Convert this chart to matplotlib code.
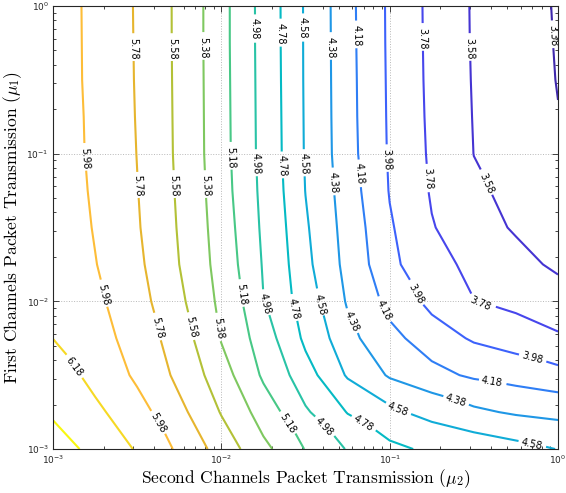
import numpy as np
import matplotlib
matplotlib.use('Agg')
import matplotlib.pyplot as plt

plt.rcParams['mathtext.fontset'] = 'cm'

# grid (log10 of the packet transmission probabilities)
log_mu2 = [-3.0, -2.75, -2.5, -2.25, -2.0, -1.75, -1.5, -1.25, -1.0, -0.75, -0.5, -0.25, 0.0]
log_mu1 = [-3.0, -2.75, -2.5, -2.25, -2.0, -1.75, -1.5, -1.25, -1.0, -0.75, -0.5, -0.25, 0.0]

# values, one row per mu1 (bottom -> top)
z_rows = [
    [6.46, 6.318, 6.159, 5.937, 5.679, 5.422, 5.169, 4.963, 4.818, 4.740, 4.685, 4.631, 4.575],
    [6.35, 6.216, 6.043, 5.821, 5.566, 5.273, 5.001, 4.769, 4.610, 4.504, 4.411, 4.352, 4.310],
    [6.27, 6.113, 5.941, 5.724, 5.451, 5.145, 4.847, 4.555, 4.354, 4.230, 4.146, 4.088, 4.030],
    [6.178, 6.051, 5.887, 5.660, 5.366, 5.062, 4.734, 4.427, 4.228, 4.071, 3.951, 3.876, 3.800],
    [6.14, 6.012, 5.842, 5.614, 5.323, 4.982, 4.657, 4.357, 4.108, 3.913, 3.780, 3.720, 3.660],
    [6.12, 5.986, 5.812, 5.580, 5.286, 4.962, 4.621, 4.307, 4.017, 3.841, 3.724, 3.634, 3.540],
    [6.10, 5.966, 5.794, 5.560, 5.267, 4.939, 4.600, 4.282, 3.997, 3.790, 3.649, 3.557, 3.500],
    [6.09, 5.949, 5.784, 5.544, 5.249, 4.920, 4.576, 4.255, 3.969, 3.758, 3.602, 3.529, 3.455],
    [6.08, 5.936, 5.776, 5.534, 5.239, 4.906, 4.562, 4.236, 3.955, 3.743, 3.578, 3.499, 3.410],
    [6.08, 5.931, 5.769, 5.532, 5.237, 4.903, 4.559, 4.231, 3.950, 3.733, 3.571, 3.480, 3.385],
    [6.07, 5.927, 5.764, 5.530, 5.235, 4.900, 4.556, 4.229, 3.946, 3.726, 3.565, 3.471, 3.372],
    [6.07, 5.925, 5.761, 5.528, 5.233, 4.897, 4.555, 4.226, 3.942, 3.722, 3.560, 3.462, 3.365],
    [6.07, 5.923, 5.759, 5.528, 5.233, 4.896, 4.554, 4.224, 3.940, 3.720, 3.558, 3.458, 3.360],
]

levels = [3.38, 3.58, 3.78, 3.98, 4.18, 4.38, 4.58, 4.78, 4.98, 5.18, 5.38, 5.58, 5.78, 5.98, 6.18, 6.38]
level_colors = ['#3f28ac', '#4534d2', '#4746ec', '#3d62fb', '#2f7ef5', '#1f97e6', '#10acd7', '#05bac4',
                '#29c3a6', '#48c886', '#7fc860', '#b3c137', '#e6b52e', '#fdbd38', '#f6d924', '#f8f80f']

# where the contour labels sit (log10 mu2, log10 mu1)
label_spots = [
    (-2.519, -0.291), (-2.299, -0.291), (-2.121, -0.284), (-1.812, -0.156), (-1.669, -0.189),
    (-1.527, -0.149), (-1.372, -0.284), (-1.212, -0.203), (-0.832, -0.223), (-0.552, -0.291),
    (-0.053, -0.203),
    (-2.822, -1.036), (-2.501, -1.219), (-2.287, -1.219), (-2.103, -1.219), (-1.954, -1.029),
    (-1.806, -1.070), (-1.657, -1.083), (-1.515, -1.070), (-1.354, -1.199), (-1.194, -1.138),
    (-1.028, -1.043), (-0.802, -1.172), (-0.475, -1.226),
    (-2.703, -1.957), (-2.394, -2.181), (-2.210, -2.181), (-2.032, -2.181), (-1.901, -1.957),
    (-1.758, -2.025), (-1.592, -2.059), (-1.432, -2.025), (-1.236, -2.140), (-1.057, -2.072),
    (-0.861, -1.957), (-0.463, -2.025),
    (-2.881, -2.451), (-2.376, -2.824), (-1.622, -2.837), (-1.396, -2.858), (-1.164, -2.837),
    (-0.968, -2.770), (-0.624, -2.722), (-0.398, -2.587), (-0.166, -2.431), (-0.160, -2.986),
]

mu2 = 10.0 ** np.array(log_mu2)
mu1 = 10.0 ** np.array(log_mu1)
Z = np.array(z_rows)

fig = plt.figure(figsize=(5.66, 4.93), dpi=100)
ax = fig.add_axes([0.0936, 0.0892, 0.8923, 0.8986])

cs = ax.contour(mu2, mu1, Z, levels=levels, colors=level_colors, linewidths=1.5)
ax.set_xscale('log')
ax.set_yscale('log')
ax.set_xlim(1e-3, 1)
ax.set_ylim(1e-3, 1)

spots = [(10 ** x, 10 ** y) for x, y in label_spots]
ax.clabel(cs, manual=spots, inline=True, inline_spacing=3, fontsize=7, fmt='%.2f', colors='k')

ax.grid(True, which='major', linestyle=':', color='#b8b8b8', linewidth=0.7)
ax.tick_params(which='both', direction='in', top=True, right=True, colors='#262626',
               labelsize=6.5, width=0.6, pad=3)
ax.tick_params(which='major', length=4)
ax.tick_params(which='minor', length=2.5)
for s in ax.spines.values():
    s.set_color('#262626')
    s.set_linewidth(0.8)

ax.set_xlabel(r'Second Channels Packet Transmission ($\mu_2$)', fontsize=12.5, fontfamily='cmr10')
ax.set_ylabel(r'First Channels Packet Transmission ($\mu_1$)', fontsize=12.5, fontfamily='cmr10')
ax.xaxis.set_label_coords(0.5, -0.042)
ax.yaxis.set_label_coords(-0.058, 0.5)

fig.savefig('out.png', dpi=100)
